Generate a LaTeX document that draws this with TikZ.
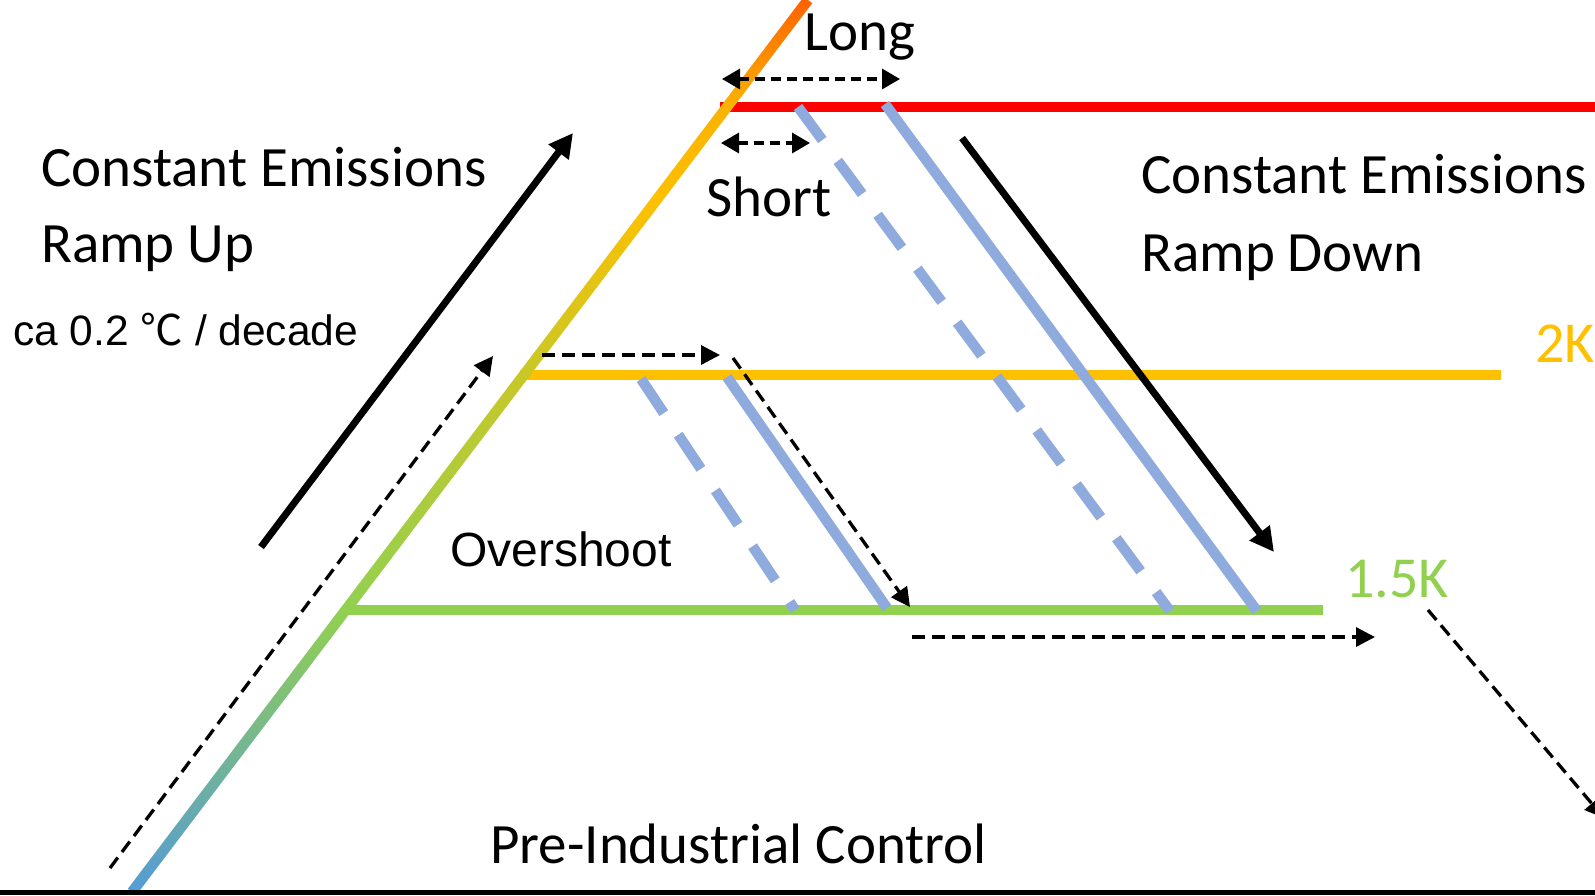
\documentclass[tikz,border=0pt]{standalone}
\usepackage{fontspec}
\setmainfont{Carlito}
\newfontfamily\arialfont{Liberation Sans}
\newfontfamily\cjkfont{Noto Sans CJK SC}
\usetikzlibrary{arrows.meta}

\definecolor{levelred}{RGB}{255,0,0}
\definecolor{levelyellow}{RGB}{255,192,0}
\definecolor{levelgreen}{RGB}{146,208,80}
\definecolor{pathblue}{RGB}{143,170,220}
\definecolor{risebase}{RGB}{85,155,215}
\definecolor{riseolive}{RGB}{200,200,40}
\definecolor{riseamber}{RGB}{250,178,0}
\definecolor{risetop}{RGB}{255,95,0}

% colour ramp of the warming path, bottom (blue) to top (orange)
\pgfdeclareverticalshading{riseshade}{100bp}{%
  color(0bp)=(risebase); color(25bp)=(risebase);
  color(40.9bp)=(levelgreen); color(54bp)=(riseolive);
  color(63.9bp)=(levelyellow); color(69bp)=(riseamber);
  color(75bp)=(risetop); color(100bp)=(risetop)}

\tikzset{
  level/.style={line width=10.4pt},
  pathsolid/.style={pathblue, line width=10.4pt},
  pathdashed/.style={pathblue, line width=10.4pt, dash pattern=on 41pt off 26pt},
  bigarrow/.style={line width=7pt, -{Triangle[length=24pt,width=24pt]}},
  hintarrow/.style={line width=3.3pt, dash pattern=on 13pt off 7pt,
    -{Triangle[length=19pt,width=19pt]}},
  spanarrow/.style={line width=3.3pt, dash pattern=on 10pt off 6pt,
    {Triangle[length=18pt,width=20pt]}-{Triangle[length=18pt,width=20pt]}},
  caption/.style={inner sep=0pt, anchor=base west, font=\fontsize{57}{60}\selectfont},
  levellabel/.style={inner sep=0pt, anchor=base west, font=\fontsize{58}{60}\selectfont},
}

\begin{document}
\begin{tikzpicture}[x=1pt, y=-1pt]
\useasboundingbox (0,0) rectangle (1595,895);
\fill[white] (0,0) rectangle (1595,895);

% warming levels
\draw[level, levelred]    (720,107) -- (1610,107);
\draw[level, levelyellow] (520,375) -- (1501,375);
\draw[level, levelgreen]  (344,610) -- (1323,610);

% warming path from pre-industrial upwards
\shade[shading=riseshade]
  (127.8,888.8) -- (136.2,895.2) -- (812.2,3.2) -- (803.8,-3.2) -- cycle;

% ramp-down paths
\draw[pathdashed] (798,107) -- (1170,611);
\draw[pathsolid]  (885,104) -- (1257,611);
\draw[pathdashed] (641,379) -- (795,610);
\draw[pathsolid]  (727,377) -- (887,608);

% baseline: pre-industrial control
\fill[black] (0,889.5) rectangle (1595,895);

% named end points of the arrows
\coordinate (upA) at (261,547);   \coordinate (upB) at (573,133);
\coordinate (dnA) at (962,138);   \coordinate (dnB) at (1274,552);
\coordinate (slA) at (110,868);   \coordinate (slB) at (493,356);
\coordinate (lgA) at (722,79);    \coordinate (lgB) at (900,79);
\coordinate (shA) at (721,143);   \coordinate (shB) at (810,143);
\coordinate (ovA) at (542,355);   \coordinate (ovB) at (720,355);
\coordinate (ovC) at (733,358);   \coordinate (ovD) at (910,607);
\coordinate (btA) at (912,637);   \coordinate (btB) at (1375,637);
\coordinate (rtA) at (1428,610);  \coordinate (rtB) at (1604,818);

\draw[bigarrow]  (upA) -- (upB);
\draw[bigarrow]  (dnA) -- (dnB);
\draw[hintarrow] (slA) -- (slB);
\draw[hintarrow] (ovA) -- (ovB);
\draw[hintarrow] (ovC) -- (ovD);
\draw[hintarrow] (btA) -- (btB);
\draw[hintarrow] (rtA) -- (rtB);
\draw[spanarrow] (lgA) -- (lgB);
\draw[spanarrow] (shA) -- (shB);

% labels
\node[caption] (ceup)  at (41,186)   {Constant Emissions};
\node[caption] (rup)   at (41,262)   {Ramp Up};
\node[caption] (cedn)  at (1141,193) {Constant Emissions};
\node[caption] (rdn)   at (1141,271) {Ramp Down};
\node[caption] (long)  at (804,50)   {Long};
\node[caption] (short) at (706,216)  {Short};
\node[caption] (pic)   at (490,863)  {Pre-Industrial Control};
\node[inner sep=0pt, anchor=base west, font=\arialfont\fontsize{42.5}{46}\selectfont]
  (rate) at (13,345) {ca 0.2 {\cjkfont ℃} / decade};
\node[inner sep=0pt, anchor=base west, font=\arialfont\fontsize{48}{52}\selectfont]
  (over) at (450,566) {Overshoot};
\node[levellabel, text=levelyellow] (twoK)  at (1535,362) {2K};
\node[levellabel, text=levelgreen]  (oneK)  at (1345,597) {1.5K};
\end{tikzpicture}
\end{document}
